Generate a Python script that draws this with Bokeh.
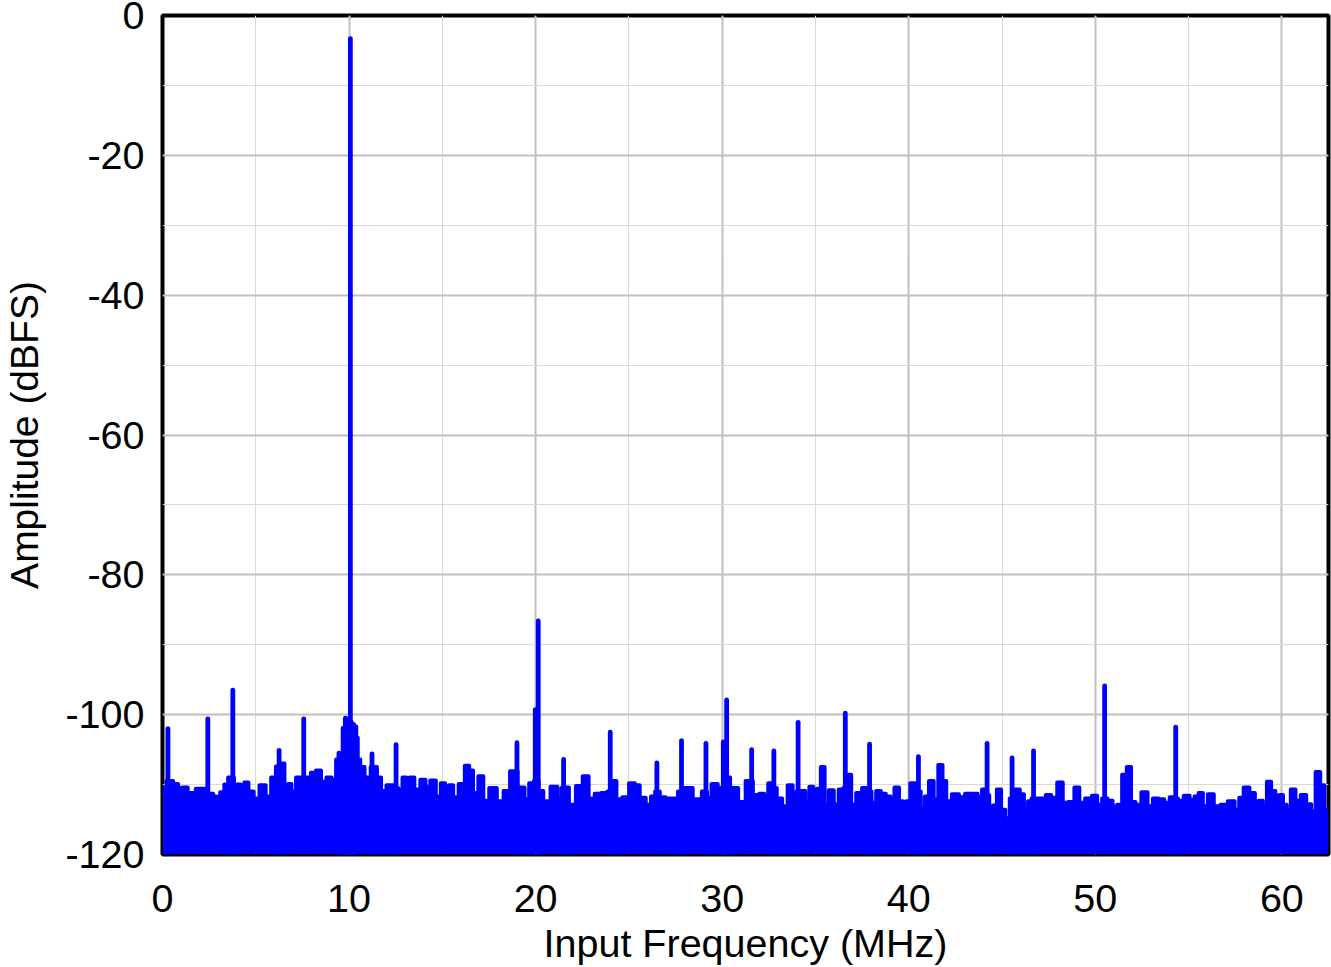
import numpy as np
from bokeh.plotting import figure
from bokeh.models import SingleIntervalTicker, Range1d, PrintfTickFormatter
from bokeh.embed import file_html
from bokeh.resources import INLINE

# ---- noise-floor envelope (MHz, dBFS) ----
noise_freq = [0.0, 0.43, 0.71, 0.96, 1.18, 1.52, 2.05, 2.61, 2.82, 3.0, 3.18, 3.45, 3.59,
              4.07, 4.29, 4.48, 4.73, 5.04, 5.36, 5.7, 5.95, 6.21, 6.43, 6.64, 6.8, 7.02,
              7.3, 7.57, 7.82, 8.09, 8.36, 8.63, 8.95, 9.18, 9.43, 9.57, 9.75, 9.88, 10.07,
              10.2, 10.34, 10.43, 10.5, 10.7, 10.96, 11.36, 11.63, 11.8, 12.21, 12.52, 12.75,
              12.98, 13.16, 13.34, 13.66, 13.98, 14.21, 14.5, 14.8, 15.04, 15.25, 15.46, 15.7,
              16.05, 16.36, 16.52, 16.77, 17.09, 17.3, 17.73, 18.11, 18.46, 18.8, 19.27, 19.54,
              19.77, 20.05, 20.27, 20.55, 21.05, 21.28, 21.49, 21.63, 21.94, 22.38, 22.67, 23.01,
              23.33, 23.69, 24.0, 24.17, 24.49, 24.81, 25.21, 25.42, 25.74, 26.06, 26.31, 26.5,
              26.81, 27.12, 27.44, 27.82, 28.15, 28.69, 29.13, 29.24, 29.62, 29.9, 30.2, 30.65,
              31.06, 31.46, 31.83, 32.15, 32.36, 32.58, 32.77, 33.08, 33.35, 33.67, 33.88, 34.07,
              34.33, 34.58, 34.77, 34.99, 35.18, 35.4, 35.58, 35.85, 36.11, 36.38, 36.6, 36.79,
              37.04, 37.33, 37.67, 37.9, 38.11, 38.4, 38.61, 38.93, 39.11, 39.36, 39.6, 39.77,
              39.95, 40.22, 40.52, 40.76, 40.97, 41.2, 41.47, 41.7, 41.92, 42.1, 42.52, 42.86,
              43.18, 43.54, 43.84, 44.02, 44.2, 44.43, 44.61, 44.84, 45.06, 45.29, 45.54, 45.86,
              46.04, 46.31, 46.48, 46.69, 46.93, 47.2, 47.5, 47.77, 48.15, 48.36, 48.72, 49.04,
              49.25, 49.66, 49.97, 50.23, 50.5, 50.81, 51.04, 51.31, 51.57, 51.81, 52.02, 52.29,
              52.65, 52.95, 53.22, 53.54, 53.85, 54.13, 54.31, 54.56, 54.92, 55.19, 55.45, 55.63,
              55.9, 56.17, 56.53, 56.88, 57.33, 57.6, 57.83, 58.08, 58.44, 58.67, 58.85, 59.11,
              59.29, 59.56, 59.74, 59.97, 60.15, 60.36, 60.6, 60.86, 61.17, 61.44, 61.7, 61.92,
              62.19, 62.36, 62.5]
noise_db = [-110.6, -109.5, -109.9, -110.5, -110.4, -111.2, -110.6, -111.3, -111.7, -112.1, -111.1, -110.0, -109.0,
            -110.0, -110.5, -109.7, -111.0, -112.0, -110.1, -111.7, -109.0, -107.4, -107.0, -111.1, -109.9, -111.0,
            -109.0, -109.8, -109.0, -108.3, -108.0, -109.6, -109.0, -109.3, -106.4, -107.0, -101.9, -100.6, -101.0,
            -101.4, -101.7, -103.3, -106.4, -107.5, -109.0, -107.5, -109.0, -110.9, -110.1, -110.5, -110.7,
            -109.0, -110.0, -109.0, -110.7, -109.3, -110.3, -109.4, -111.7, -109.8, -111.7, -110.1, -111.8,
            -109.9, -107.3, -108.0, -111.2, -108.8, -112.3, -110.5, -112.4, -110.9, -108.1, -110.4, -112.1,
            -109.8, -109.5, -110.9, -112.4, -110.3, -112.0, -110.5, -110.4, -112.9, -110.2, -108.8, -112.0,
            -111.3, -111.2, -111.0, -109.5, -112.1, -111.8, -109.8, -110.1, -111.9, -112.9, -111.7, -111.0,
            -111.8, -112.0, -112.0, -111.0, -110.5, -112.1, -111.0, -111.9, -109.9, -110.5, -109.0, -110.5,
            -112.5, -109.5, -111.5, -111.3, -112.9, -109.8, -110.5, -112.0, -113.1, -110.1, -112.4, -111.0,
            -110.9, -112.6, -110.3, -112.9, -110.6, -107.5, -112.9, -110.8, -112.8, -110.7, -110.5, -108.6,
            -112.9, -111.2, -110.5, -111.0, -112.6, -110.9, -111.3, -111.7, -112.4, -110.4, -112.4, -113.6,
            -112.4, -109.8, -111.0, -113.3, -111.7, -109.5, -112.1, -107.2, -109.5, -112.4, -111.4, -111.8,
            -111.3, -111.3, -111.8, -110.7, -111.5, -113.8, -113.0, -110.7, -113.6, -114.8, -112.0, -110.7,
            -111.4, -113.8, -112.4, -112.0, -112.0, -112.0, -111.5, -111.9, -109.7, -112.6, -112.5, -110.4,
            -112.6, -112.0, -111.6, -112.9, -112.0, -112.3, -113.1, -112.9, -108.6, -107.5, -112.5, -112.9,
            -111.1, -113.1, -112.0, -112.1, -112.6, -111.8, -112.0, -112.3, -111.6, -112.2, -111.7, -111.2,
            -113.1, -111.4, -113.1, -112.9, -112.4, -113.6, -111.9, -110.4, -111.2, -112.9, -112.3, -113.1,
            -109.6, -110.9, -112.9, -111.5, -112.9, -113.6, -110.7, -112.3, -111.5, -112.8, -113.8, -108.2,
            -110.1, -113.6, -113.6]

# ---- discrete spurs / tones (MHz, dBFS) ----
spur_freq = [0.29, 2.43, 3.77, 6.25, 7.57, 9.46, 9.80, 9.92, 10.07, 10.22, 10.30, 11.23, 12.52,
             19.00, 19.98, 20.14, 21.50, 24.00, 26.50, 27.82, 29.13, 30.06, 30.24, 31.58, 32.77,
             34.07, 36.60, 37.90, 40.52, 44.20, 45.54, 46.69, 50.50, 54.31]
spur_db = [-102.0, -100.6, -96.5, -105.1, -100.6, -105.5, -100.5, -100.8, -3.3, -101.4, -101.7, -105.6, -104.3,
           -104.0, -99.3, -86.6, -106.4, -102.5, -106.9, -103.7, -104.1, -103.9, -97.9, -105.0, -105.2,
           -101.1, -99.8, -104.2, -106.0, -104.1, -106.2, -105.2, -95.9, -101.8]

x_ticks_interval = 10
y_ticks_interval = 20
FLOOR = -120.0
BLUE = "#0000ff"
FONT = "Liberation Sans"

p = figure(width=1331, height=967, output_backend="svg", toolbar_location=None,
           x_range=Range1d(0, 62.5), y_range=Range1d(-120, 0),
           min_border_left=161, min_border_right=3, min_border_top=15, min_border_bottom=110)

p.varea_step(x=noise_freq, y1=[FLOOR] * len(noise_freq), y2=noise_db, step_mode="center",
             fill_color=BLUE)
p.step(noise_freq, noise_db, mode="center", line_width=4, line_color=BLUE, line_join="round")
p.segment(x0=spur_freq, y0=[FLOOR] * len(spur_freq), x1=spur_freq, y1=spur_db,
          line_width=4.8, line_color=BLUE, line_cap="round")

xt = SingleIntervalTicker(interval=x_ticks_interval, num_minor_ticks=2)
yt = SingleIntervalTicker(interval=y_ticks_interval, num_minor_ticks=2)
p.xaxis.ticker = xt
p.yaxis.ticker = yt
p.xgrid.ticker = xt
p.ygrid.ticker = yt

for g in (p.xgrid, p.ygrid):
    g.grid_line_color = "#c0c0c0"
    g.grid_line_width = 2
    g.minor_grid_line_color = "#d9d9d9"
    g.minor_grid_line_width = 1

for ax in (p.xaxis, p.yaxis):
    ax.formatter = PrintfTickFormatter(format="%d")
    ax.axis_line_color = None
    ax.major_tick_line_color = None
    ax.minor_tick_line_color = None
    ax.major_tick_out = 0
    ax.major_tick_in = 0
    ax.minor_tick_out = 0
    ax.minor_tick_in = 0
    ax.major_label_text_font = FONT
    ax.major_label_text_font_size = "39.5px"
    ax.major_label_text_color = "black"
    ax.axis_label_text_font = FONT
    ax.axis_label_text_font_style = "normal"
    ax.axis_label_text_color = "black"

p.xaxis.axis_label_text_font_size = "39.5px"
p.yaxis.axis_label_text_font_size = "39px"
p.xaxis.axis_label = "Input Frequency (MHz)"
p.yaxis.axis_label = "Amplitude (dBFS)"
p.yaxis.axis_label_text_baseline = "bottom"
p.xaxis.major_label_standoff = 30
p.yaxis.major_label_standoff = 18
p.xaxis.axis_label_standoff = 6
p.yaxis.axis_label_standoff = 16

p.outline_line_color = "black"
p.outline_line_width = 4
p.outline_line_alpha = 1.0
p.background_fill_color = "white"
p.border_fill_color = "white"

open("out.html", "w").write(file_html(p, INLINE))
